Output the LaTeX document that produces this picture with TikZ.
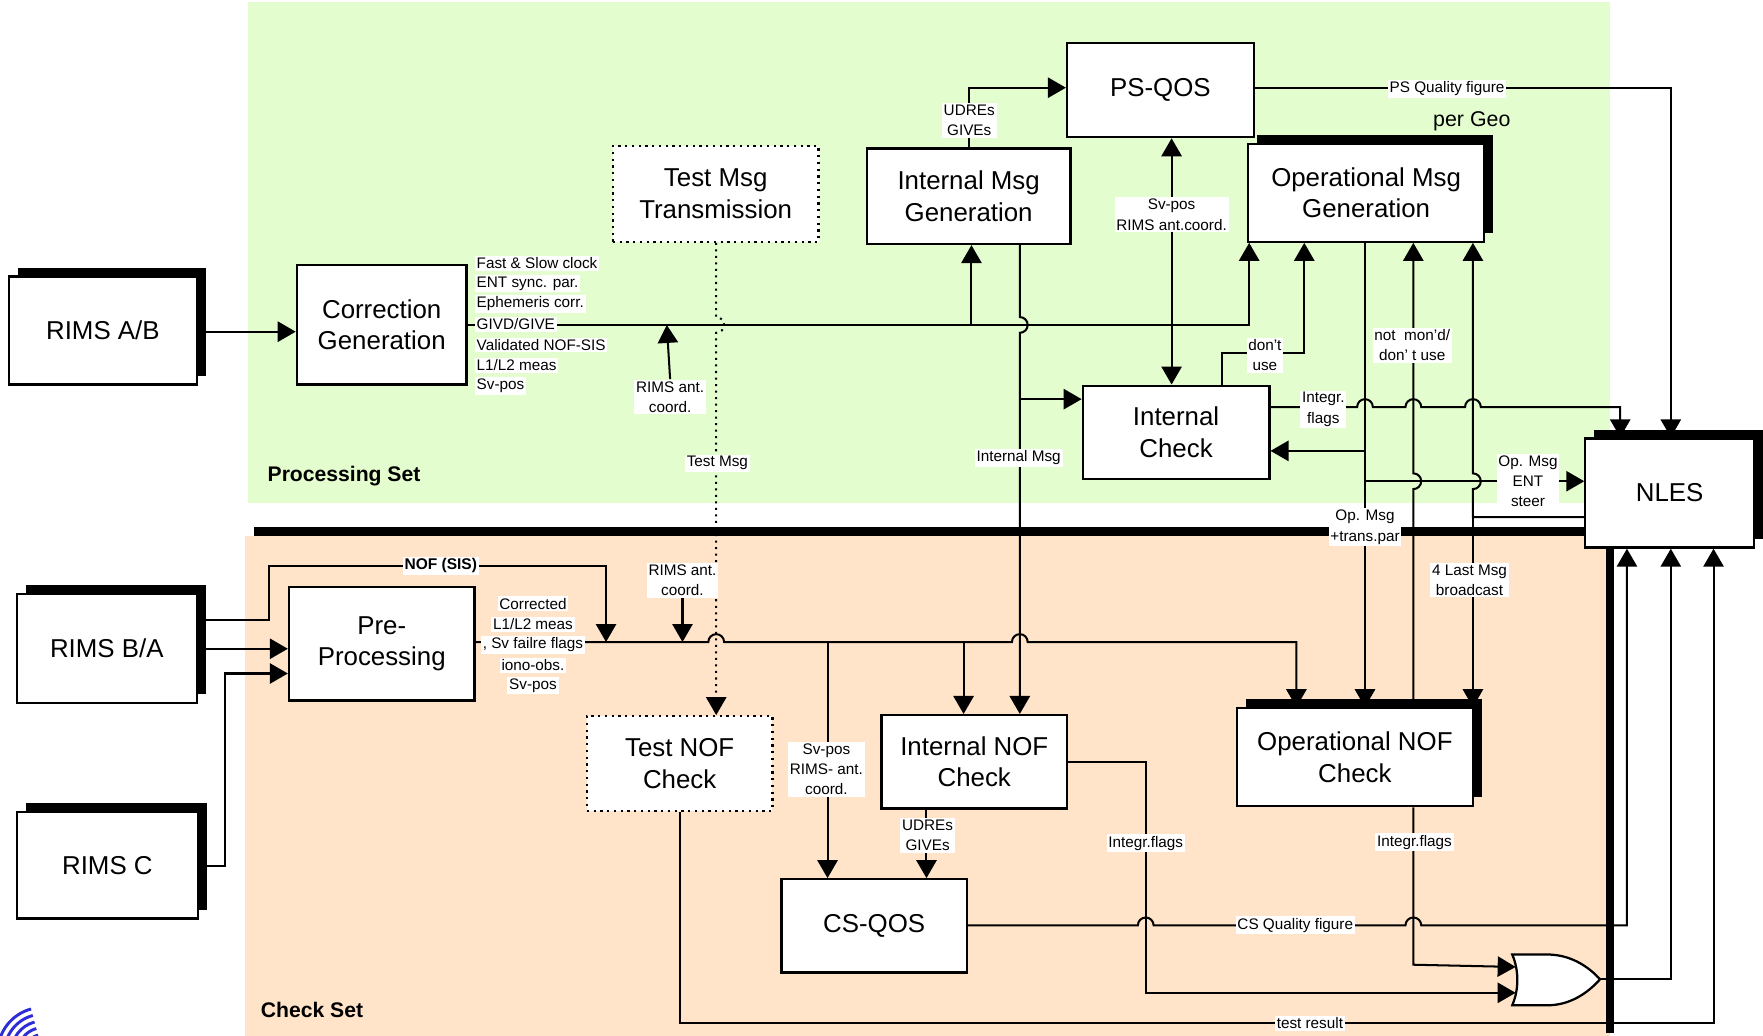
\documentclass[tikz,border=0pt]{standalone}
\usepackage{fontspec}
\setmainfont{Liberation Sans}
\usetikzlibrary{arrows.meta,shadows}
\definecolor{psgreen}{RGB}{228,253,206}
\definecolor{csorange}{RGB}{255,228,202}
\definecolor{logoblue}{RGB}{45,45,215}
\tikzset{
  box/.style={draw=black, fill=white, line width=1pt, inner sep=0pt, align=center,
    font=\fontsize{11.5}{14}\selectfont},
  shbox/.style={box, general shadow={fill=black, shadow xshift=4pt, shadow yshift=4pt}},
  testbox/.style={box, dotted},
  wire/.style={line width=0.9pt},
  arr/.style={wire, -{Triangle[length=8pt,width=9pt]}},
  darr/.style={wire, {Triangle[length=8pt,width=9pt]}-{Triangle[length=8pt,width=9pt]}},
  lbl/.style={fill=white, inner sep=0.8pt, align=center, font=\fontsize{6.8}{9}\selectfont},
  lbll/.style={lbl, anchor=west},
  setname/.style={anchor=west, font=\fontsize{9.4}{11}\bfseries\selectfont},
  busbar/.style={line width=4pt},
}
% block from its corners: style, x1, y1, x2, y2, name, text
\newcommand\blk[7]{%
  \node[#1, minimum width={(#4-#2)*0.5pt}, minimum height={(#5-#3)*0.5pt}]
    (#6) at ({(#2+#4)/2},{(#3+#5)/2}) {#7};}
\begin{document}
\begin{tikzpicture}[x=0.5pt,y=-0.5pt]
\useasboundingbox (0,0) rectangle (1568,921);

% the two redundant sets
\fill[psgreen] (221,2) rectangle (1432,447);
\fill[csorange] (218,477) rectangle (1432,921);

% blocks
\blk{shbox}{8}{246}{175}{342}{rab}{RIMS A/B}
\blk{box}{264}{236}{415}{342}{cg}{Correction\\Generation}
\blk{testbox}{545}{130}{728}{215}{tmt}{Test Msg\\Transmission}
\blk{box}{771}{132}{952}{217}{img}{Internal Msg\\Generation}
\blk{box}{949}{38}{1115}{122}{psqos}{PS-QOS}
\blk{shbox}{1110}{128}{1320}{215}{omg}{Operational Msg\\Generation}
\blk{box}{963}{343}{1129}{426}{ic}{Internal\\Check}
\blk{shbox}{1410}{390}{1560}{487}{nles}{NLES}
\blk{shbox}{15}{528}{175}{625}{rba}{RIMS B/A}
\blk{box}{257}{522}{422}{623}{pp}{Pre-\\Processing}
\blk{shbox}{15}{722}{176}{817}{rc}{RIMS C}
\blk{testbox}{522}{637}{687}{721}{tnc}{Test NOF\\Check}
\blk{box}{784}{636}{949}{719}{inc}{Internal NOF\\Check}
\blk{shbox}{1100}{630}{1310}{717}{onc}{Operational NOF\\Check}
\blk{box}{695}{782}{860}{865}{csqos}{CS-QOS}

% separating bars
\draw[busbar] (226,473) -- (nles.west |- 0,473);
\draw[line width=3.5pt] (nles.south -| 1432,0) -- (1432,919);

% OR gate
\draw[line width=1pt, fill=white] (1345,849) -- (1379,849)
  .. controls (1400,850) and (1415,862) .. (1423,871)
  .. controls (1415,880) and (1400,893) .. (1379,894) -- (1345,894)
  .. controls (1351,880) and (1351,863) .. (1345,849) -- cycle;
\coordinate (or1) at (1348,860);
\coordinate (or2) at (1348,883);
\coordinate (orout) at (1423,871);

% corner logo
\begin{scope}
\clip (0,880) rectangle (40,921);
\foreach \r in {10,16,...,40}
  \draw[logoblue, line width=1.3pt] (38,936) ++(180:\r*0.5pt) arc[start angle=180, end angle=105, radius=\r*0.5pt];
\end{scope}

% ---- processing set connections
\draw[arr] (rab.east |- 0,295) -- (cg.west |- 0,295);
\draw[arr] (cg.east |- 0,289) -- (1111,289) -- (omg.south -| 1111,0);
\draw[arr] (864,289) -- (img.south -| 864,0);
\draw[arr] (img.north -| 862,0) -- (862,78) -- (psqos.west |- 0,78);
\draw[darr] (psqos.south -| 1042,0) -- (ic.north -| 1042,0);
\draw[arr] (psqos.east |- 0,78) -- (1486,78) -- (nles.north -| 1486,0);
\draw[arr] (img.south -| 907,0) -- (907,282) arc[start angle=90, end angle=-90, radius=3.5pt] -- (inc.north -| 907,0);
\draw[arr] (907,355) -- (ic.west |- 0,355);
\draw[arr] (ic.north -| 1087,0) -- (1087,314) -- (1160,314) -- (omg.south -| 1160,0);
\draw[arr] (ic.east |- 0,362) -- (1207,362) arc[start angle=180, end angle=0, radius=3.5pt]
  -- (1250,362) arc[start angle=180, end angle=0, radius=3.5pt]
  -- (1303,362) arc[start angle=180, end angle=0, radius=3.5pt]
  -- (1441,362) -- (nles.north -| 1441,0);
\draw[arr] (omg.south -| 1214,0) -- (onc.north -| 1214,0);
\draw[arr] (1214,401) -- (ic.east |- 0,401);
\draw[arr] (1214,428) -- (nles.west |- 0,428);
\draw[arr] (onc.north -| 1257,0) -- (1257,435) arc[start angle=-90, end angle=90, radius=3.5pt] -- (omg.south -| 1257,0);
\draw[arr] (nles.west |- 0,460) -- (1310,460) -- (1310,435) arc[start angle=-90, end angle=90, radius=3.5pt] -- (omg.south -| 1310,0);
\draw[arr] (1310,460) -- (onc.north -| 1310,0);
\draw[arr, dotted] (tmt.south -| 637,0) -- (637,282) arc[start angle=90, end angle=-90, radius=3.5pt] -- (tnc.north -| 637,0);

% ---- check set connections
\draw[arr] (rba.east |- 0,577) -- (pp.west |- 0,577);
\draw[arr] (rc.east |- 0,770) -- (200,770) -- (200,599) -- (pp.west |- 0,599);
\draw[arr] (rba.east |- 0,551) -- (239,551) -- (239,503) -- (539,503) -- (539,571);
\draw[arr] (pp.east |- 0,571) -- (630,571) arc[start angle=180, end angle=0, radius=3.5pt]
  -- (900,571) arc[start angle=180, end angle=0, radius=3.5pt]
  -- (1153,571) -- (onc.north -| 1153,0);
\draw[arr] (736,571) -- (csqos.north -| 736,0);
\draw[arr] (857,571) -- (inc.north -| 857,0);
\draw[arr] (inc.south -| 824,0) -- (csqos.north -| 824,0);
\draw[arr] (inc.east |- 0,678) -- (1019,678) -- (1019,883) -- (or2);
\draw[arr] (csqos.east |- 0,823) -- (1012,823) arc[start angle=180, end angle=0, radius=3.5pt]
  -- (1250,823) arc[start angle=180, end angle=0, radius=3.5pt]
  -- (1447,823) -- (nles.south -| 1447,0);
\draw[arr] (onc.south -| 1257,0) -- (1257,858) -- (or1);
\draw[arr] (orout) -- (1486,871) -- (nles.south -| 1486,0);
\draw[arr] (tnc.south -| 605,0) -- (605,910) -- (1524,910) -- (nles.south -| 1524,0);

% ---- labels
\foreach \t [count=\i] in {Fast \& Slow clock, ENT sync. par., Ephemeris corr., GIVD/GIVE,
    Validated NOF-SIS, L1/L2 meas, Sv-pos}
  \node[lbll] (cgl\i) at (422,{234+18.2*(\i-1)}) {\t};
\node[lbl] (rac1) at (596,353) {RIMS ant.\\coord.};
\draw[arr] (rac1.north) -- (593,289);
\node[lbl] (ltm) at (638,412) {Test Msg};
\node[lbl] (lud1) at (862,107) {UDREs\\GIVEs};
\node[lbl] (lim) at (906,407) {Internal Msg};
\node[lbl] (lsv1) at (1042,191) {Sv-pos\\RIMS ant.coord.};
\node[lbl] (lpsq) at (1287,79) {PS Quality figure};
\node[font=\fontsize{9.5}{11}\selectfont] (lgeo) at (1309,108) {per Geo};
\node[lbl] (ldu) at (1125,316) {don't\\use};
\node[lbl] (lnm) at (1256,307) {not~~mon'd/\\don' t use};
\node[lbl] (lif1) at (1177,364) {Integr.\\flags};
\node[lbl] (lent) at (1359,428) {Op. Msg\\ENT\\steer};
\node[lbl] (ltp) at (1214,469) {Op. Msg\\+trans.par};
\node[lbl] (l4m) at (1307,516) {4 Last Msg\\broadcast};
\node[lbl, font=\fontsize{6.9}{9}\bfseries\selectfont] (lnof) at (392,503) {NOF (SIS)};
\foreach \t [count=\i] in {Corrected, L1/L2 meas, {, Sv failre flags}, iono-obs., Sv-pos}
  \node[lbl] (ppl\i) at (474,{537+18.2*(\i-1)}) {\t};
\node[lbl] (rac2) at (607,516) {RIMS ant.\\coord.};
\draw[arr] (rac2.south) -- (607,571);
\node[lbl] (lsv2) at (735,684) {Sv-pos\\RIMS- ant.\\coord.};
\node[lbl] (lud2) at (825,743) {UDREs\\GIVEs};
\node[lbl] (lif2) at (1019,750) {Integr.flags};
\node[lbl] (lif3) at (1258,749) {Integr.flags};
\node[lbl] (lcsq) at (1152,823) {CS Quality figure};
\node[lbl] (ltr) at (1165,910) {test result};
\node[setname] (lps) at (231,423) {Processing Set};
\node[setname] (lcs) at (225,898) {Check Set};
\end{tikzpicture}
\end{document}
